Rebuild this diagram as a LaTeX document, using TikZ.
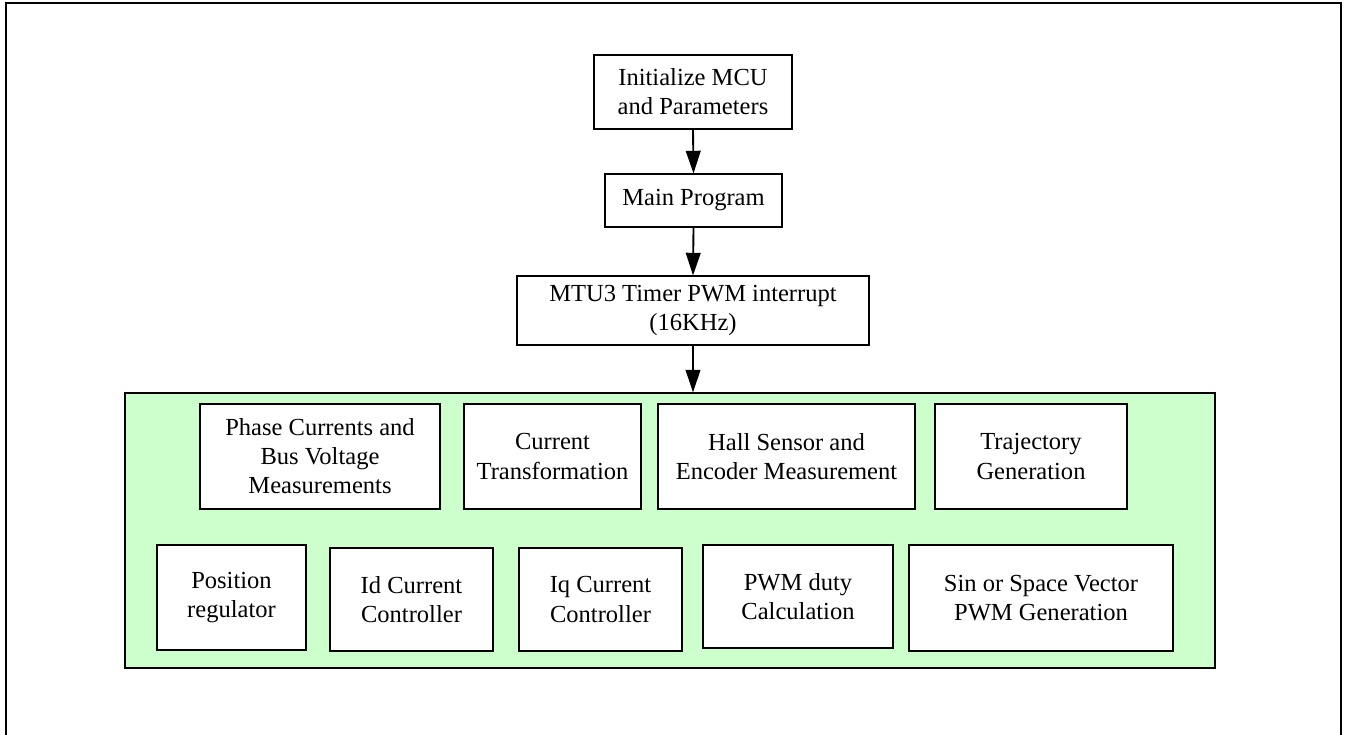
\documentclass[tikz,border=0pt]{standalone}
\usepackage{fontspec}
\setmainfont{Liberation Serif}
\usetikzlibrary{arrows.meta,shadows}
\definecolor{panelgreen}{RGB}{204,255,204}
\tikzset{
  box/.style={draw=black, line width=0.8pt, fill=white, rectangle, inner sep=0pt, align=center,
    font=\fontsize{18.4}{21.8}\selectfont,
    drop shadow={shadow xshift=1.1pt, shadow yshift=-1.1pt, fill=gray!70, opacity=0.8}},
  panel/.style={draw=black, line width=0.8pt, fill=panelgreen, rectangle, inner sep=0pt,
    drop shadow={shadow xshift=1.1pt, shadow yshift=-1.1pt, fill=gray!70, opacity=0.8}},
  flow/.style={line width=1.4pt, -{Triangle[length=17pt,width=11pt]}},
  frame/.style={line width=2.2pt}
}
\begin{document}
\begin{tikzpicture}[x=0.75pt,y=-0.75pt]
\useasboundingbox (0,0) rectangle (1346,735);
\coordinate (fbl) at (6,738);
\coordinate (ftl) at (6,3);
\coordinate (ftr) at (1341,3);
\coordinate (fbr) at (1341,738);
\draw[frame] (fbl) -- (ftl) -- (ftr) -- (fbr);

\node[box, minimum width=148.5pt, minimum height=55.5pt] (init) at (693,92) {Initialize MCU\\and Parameters};
\node[box, minimum width=132.75pt, minimum height=39.75pt] (main) at (693.5,200.5) {Main Program};
\node[box, minimum width=264pt, minimum height=51.75pt] (mtu) at (693,310.5) {MTU3 Timer PWM interrupt\\(16KHz)};
\node[panel, minimum width=817.5pt, minimum height=206.25pt] (green) at (670,530.5) {};

\node[box, minimum width=180pt, minimum height=78.75pt] (phase) at (320,456.5) {Phase Currents and\\Bus Voltage\\Measurements};
\node[box, minimum width=132.75pt, minimum height=78.75pt] (ctrans) at (552.5,456.5) {Current\\Transformation};
\node[box, minimum width=192.75pt, minimum height=78.75pt] (hall) at (786.5,456.5) {Hall Sensor and\\Encoder Measurement};
\node[box, minimum width=144pt, minimum height=78.75pt] (traj) at (1031,456.5) {Trajectory\\Generation};

\node[box, minimum width=111.75pt, minimum height=78.75pt] (pos) at (231.5,597.5) {Position\\regulator};
\node[box, minimum width=122.25pt, minimum height=77.25pt] (idc) at (411.5,599.5) {Id Current\\Controller};
\node[box, minimum width=122.25pt, minimum height=77.25pt] (iqc) at (600.5,599.5) {Iq Current\\Controller};
\node[box, minimum width=142.5pt, minimum height=77.25pt] (duty) at (798,596.5) {PWM duty\\Calculation};
\node[box, minimum width=198pt, minimum height=79.5pt] (svpwm) at (1041,598) {Sin or Space Vector\\PWM Generation};

\draw[flow] (init.south) -- (main.north);
\draw[flow] (main.south) -- (mtu.north);
\draw[flow] (mtu.south) -- (mtu.south |- green.north);
\end{tikzpicture}
\end{document}
